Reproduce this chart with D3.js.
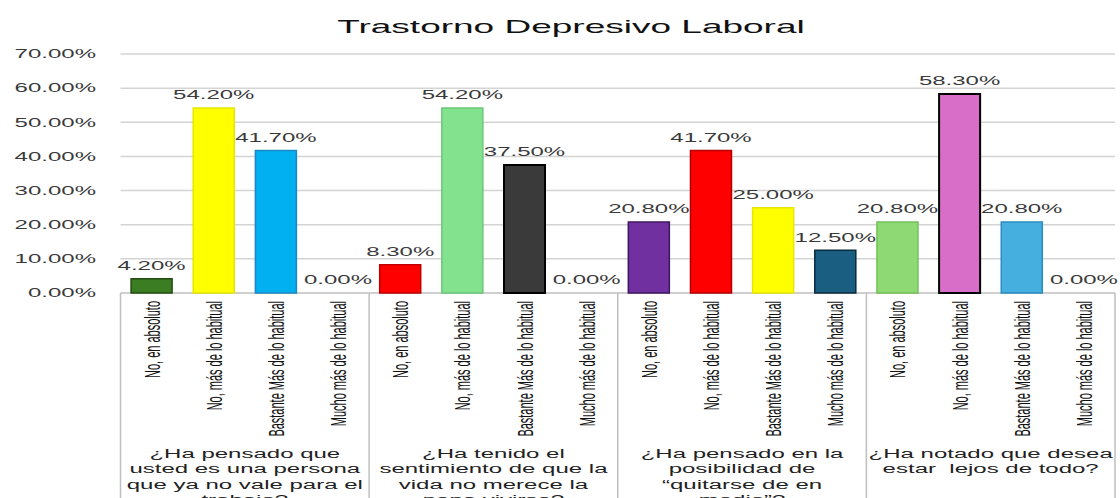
<!DOCTYPE html>
<html>
<head>
<meta charset="utf-8">
<script src="https://cdn.jsdelivr.net/npm/d3@7"></script>
<style>
  html, body { margin: 0; padding: 0; background: #fff; }
  svg { display: block; }
  text { font-family: "Liberation Sans", Arial, sans-serif; }
</style>
</head>
<body>
<div id="chart"></div>
<script>
// datos
const chartTitle = "Trastorno Depresivo Laboral";
const answers = ["No, en absoluto", "No, más de lo habitual", "Bastante Más de lo habitual", "Mucho más de lo habitual"];
const questions = [
  ["¿Ha pensado que", "usted es una persona", "que ya no vale para el", "trabajo?"],
  ["¿Ha tenido el", "sentimiento de que la", "vida no merece la", "pena vivirse?"],
  ["¿Ha pensado en la", "posibilidad de", "“quitarse de en", "medio”?"],
  ["¿Ha notado que desea", "estar  lejos de todo?"]
];
const q1Values = [0.042, 0.542, 0.417, 0.0];
const q2Values = [0.083, 0.542, 0.375, 0.0];
const q3Values = [0.208, 0.417, 0.25, 0.125];
const q4Values = [0.208, 0.583, 0.208, 0.0];
const yTicks = [0, 0.1, 0.2, 0.3, 0.4, 0.5, 0.6, 0.7];

// colores por barra (relleno, borde)
const q1Colors = [["#3b7d23", "#234d12"], ["#ffff00", "#e6e600"], ["#00b0f0", "#1d86c4"], ["#cccccc", "#999"]];
const q2Colors = [["#ff0000", "#c00000"], ["#83e28e", "#6cc878"], ["#3a3a3a", "#000"], ["#cccccc", "#999"]];
const q3Colors = [["#7030a0", "#3e1660"], ["#ff0000", "#b00000"], ["#ffff00", "#e6e600"], ["#1a5e82", "#0b2a3c"]];
const q4Colors = [["#8ed973", "#74c05a"], ["#d86ec8", "#000"], ["#45afe0", "#2a8cc0"], ["#cccccc", "#999"]];

const allValues = [q1Values, q2Values, q3Values, q4Values];
const allColors = [q1Colors, q2Colors, q3Colors, q4Colors];

const W = 1120, H = 498, K = 2; // la imagen original está estirada en horizontal
const vw = W / K;

const svg = d3.select("#chart").append("svg")
  .attr("width", W).attr("height", H)
  .attr("viewBox", `0 0 ${vw} ${H}`)
  .attr("preserveAspectRatio", "none");

const left = 120.5 / K, right = 1115 / K;
const y = d3.scaleLinear().domain([0, 0.7]).range([293, 54]);
const x0 = d3.scaleBand().domain(d3.range(questions.length)).range([left, right]);
const x1 = d3.scaleBand().domain(d3.range(answers.length)).range([0, x0.bandwidth()])
  .paddingInner(0.34).paddingOuter(0.17);

// título
svg.append("text")
  .attr("x", 571 / K).attr("y", 33)
  .attr("text-anchor", "middle")
  .style("font-size", "18.5px").style("fill", "#111")
  .text(chartTitle);

// rejilla
svg.append("g").selectAll("line").data(yTicks.slice(1)).enter().append("line")
  .attr("x1", left).attr("x2", right)
  .attr("y1", d => y(d)).attr("y2", d => y(d))
  .attr("stroke", "#d4d4d4").attr("stroke-width", 1.5)
  .attr("vector-effect", "non-scaling-stroke");

// eje y
const yAxis = svg.append("g").attr("transform", `translate(${96 / K},0)`)
  .call(d3.axisLeft(y).tickValues(yTicks).tickFormat(d3.format(".2%")).tickSize(0).tickPadding(0));
yAxis.select(".domain").remove();
yAxis.selectAll("text").style("font-size", "12px").style("fill", "#3a3a3a").attr("font-family", null);

// eje x: línea base y separadores
svg.append("line")
  .attr("x1", left).attr("x2", right).attr("y1", y(0)).attr("y2", y(0))
  .attr("stroke", "#bfbfbf").attr("stroke-width", 1.5)
  .attr("vector-effect", "non-scaling-stroke");
svg.append("g").selectAll("line").data(d3.range(questions.length + 1)).enter().append("line")
  .attr("x1", d => d < questions.length ? x0(d) : right)
  .attr("x2", d => d < questions.length ? x0(d) : right)
  .attr("y1", y(0)).attr("y2", H)
  .attr("stroke", "#bfbfbf").attr("stroke-width", 1.5)
  .attr("vector-effect", "non-scaling-stroke");

const groups = svg.append("g").selectAll("g").data(questions).enter().append("g")
  .attr("transform", (d, i) => `translate(${x0(i)},0)`);

// barras
groups.selectAll("rect").data((d, i) => allValues[i].map((v, j) => ({ v, c: allColors[i][j] })))
  .enter().filter(d => d.v > 0).append("rect")
  .attr("x", (d, j) => x1(j)).attr("width", x1.bandwidth())
  .attr("y", d => y(d.v)).attr("height", d => y(0) - y(d.v))
  .attr("fill", d => d.c[0]).attr("stroke", d => d.c[1])
  .attr("stroke-width", d => d.c[1] === "#000" ? 2 : 1.5)
  .attr("vector-effect", "non-scaling-stroke");

// etiquetas de datos
groups.selectAll(".lbl").data((d, i) => allValues[i]).enter().append("text")
  .attr("class", "lbl")
  .attr("x", (d, j) => x1(j) + x1.bandwidth() / 2)
  .attr("y", d => y(d) - 8.5)
  .attr("text-anchor", "middle")
  .style("font-size", "12px").style("fill", "#3a3a3a")
  .text(d => d3.format(".2%")(d));

// categorías giradas
groups.selectAll(".cat").data(answers).enter().append("text")
  .attr("class", "cat")
  .attr("transform", (d, j) => `translate(${x1(j) + x1.bandwidth() / 2 + 4},301) rotate(-90)`)
  .attr("text-anchor", "end")
  .style("font-size", "11px").style("fill", "#111")
  .text(d => d);

// preguntas
groups.each(function (lines) {
  const t = d3.select(this).append("text")
    .attr("text-anchor", "middle")
    .style("font-size", "12px").style("fill", "#222")
    .style("white-space", "pre");
  lines.forEach((s, k) => {
    t.append("tspan").attr("x", x0.bandwidth() / 2).attr("y", 458 + k * 15.5).text(s);
  });
});
</script>
</body>
</html>
